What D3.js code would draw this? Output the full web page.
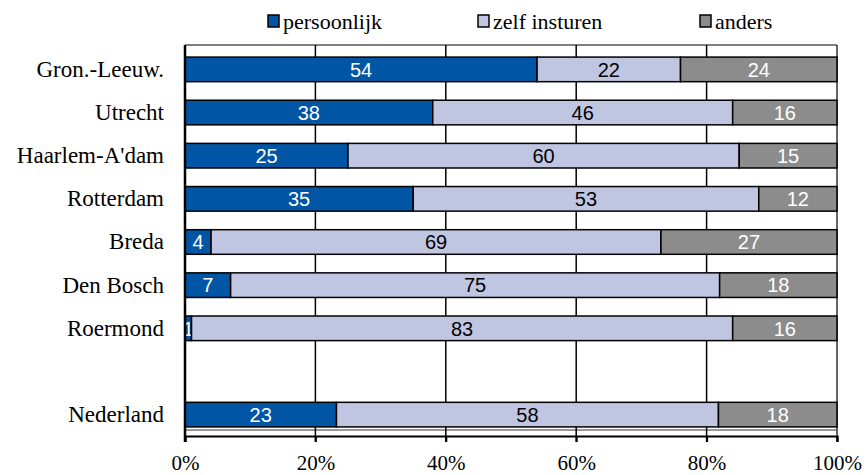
<!DOCTYPE html>
<html>
<head>
<meta charset="utf-8">
<script src="https://cdn.jsdelivr.net/npm/d3@7"></script>
<style>
  html, body { margin: 0; padding: 0; background: #fff; }
  svg { display: block; }
</style>
</head>
<body>
<svg id="chart" width="868" height="475"></svg>
<script>
// Regions (a blank row separates the national total)
const regions = ["Gron.-Leeuw.", "Utrecht", "Haarlem-A'dam", "Rotterdam", "Breda", "Den Bosch", "Roermond", "", "Nederland"];
const seriesNames = ["persoonlijk", "zelf insturen", "anders"];
const persoonlijk = [54, 38, 25, 35, 4, 7, 1, null, 23];
const zelfInsturen = [22, 46, 60, 53, 69, 75, 83, null, 58];
const anders = [24, 16, 15, 12, 27, 18, 16, null, 18];
const tickValues = [0, 0.2, 0.4, 0.6, 0.8, 1];

const colors = ["#0055a4", "#c0c6e2", "#8c8c8c"];
const labelColors = ["#ffffff", "#000000", "#ffffff"];
const serif = "'Liberation Serif', 'Times New Roman', serif";
const sans = "'Liberation Sans', Arial, sans-serif";

const svg = d3.select("#chart");
const m = { left: 185, right: 837, top: 45, bottom: 430 };

const x = d3.scaleLinear().domain([0, 1]).range([m.left, m.right]);
const y = d3.scaleBand().domain(regions.map((r, i) => i)).range([m.top, 439]).paddingInner(0.43).paddingOuter(0.28);

// Rows as 100% stacks
const rows = regions.map((r, i) => ({
  region: r, i,
  vals: [persoonlijk[i], zelfInsturen[i], anders[i]]
})).filter(d => d.vals[0] !== null);

// Plot frame
svg.append("line").attr("x1", m.left).attr("x2", m.right).attr("y1", m.top).attr("y2", m.top)
  .attr("stroke", "#555").attr("stroke-width", 1.5);
svg.append("line").attr("x1", m.right).attr("x2", m.right).attr("y1", m.top).attr("y2", 442)
  .attr("stroke", "#333").attr("stroke-width", 1.5);
svg.append("line").attr("x1", m.left).attr("x2", m.right).attr("y1", m.bottom).attr("y2", m.bottom)
  .attr("stroke", "#333").attr("stroke-width", 1.2);

// Vertical gridlines
svg.append("g").selectAll("line").data(tickValues.slice(1, -1)).join("line")
  .attr("x1", d => x(d)).attr("x2", d => x(d))
  .attr("y1", m.top).attr("y2", 442)
  .attr("stroke", "#000").attr("stroke-width", 1.5);

// Bars
const barG = svg.append("g");
rows.forEach(row => {
  const total = d3.sum(row.vals);
  let acc = 0;
  row.vals.forEach((v, k) => {
    const x0 = acc / total, x1 = (acc + v) / total;
    acc += v;
    barG.append("rect")
      .attr("x", x(x0)).attr("y", y(row.i))
      .attr("width", x(x1) - x(x0)).attr("height", y.bandwidth())
      .attr("fill", colors[k]).attr("stroke", "#000").attr("stroke-width", 1.5);
    barG.append("text")
      .attr("x", (x(x0) + x(x1)) / 2).attr("y", y(row.i) + y.bandwidth() / 2)
      .attr("dy", "0.36em").attr("text-anchor", "middle")
      .style("font-family", sans).style("font-size", "20px")
      .attr("fill", labelColors[k]).text(v);
  });
});

// Bottom axis
const xAxis = d3.axisBottom(x).tickValues(tickValues).tickFormat(d3.format(".0%")).tickSize(6).tickPadding(13);
const gx = svg.append("g").attr("transform", `translate(0,436)`).call(xAxis);
gx.select(".domain").attr("stroke", "#000").attr("stroke-width", 2);
gx.selectAll(".tick line").attr("stroke", "#000").attr("stroke-width", 2);
gx.selectAll(".tick text").style("font-family", serif)
  .style("font-size", "21px").attr("fill", "#000");

// Left axis
const yAxis = d3.axisLeft(y).tickFormat(i => regions[i]).tickSize(0).tickPadding(21);
const gy = svg.append("g").attr("transform", `translate(${m.left},0)`).call(yAxis);
gy.select(".domain").remove();
gy.selectAll(".tick text").style("font-family", serif)
  .style("font-size", "23px").attr("fill", "#000");
svg.append("line").attr("x1", m.left).attr("x2", m.left).attr("y1", m.top).attr("y2", 442)
  .attr("stroke", "#000").attr("stroke-width", 2.5);

// Legend
const legendX = [268, 478, 700];
const lg = svg.append("g").selectAll("g").data(seriesNames).join("g")
  .attr("transform", (d, i) => `translate(${legendX[i]},15)`);
lg.append("rect").attr("width", 11).attr("height", 12)
  .attr("fill", (d, i) => colors[i]).attr("stroke", "#000").attr("stroke-width", 1.5);
lg.append("text").attr("x", 15).attr("y", 6).attr("dy", "0.35em")
  .style("font-family", serif).style("font-size", "22px")
  .text(d => d);
</script>
</body>
</html>
